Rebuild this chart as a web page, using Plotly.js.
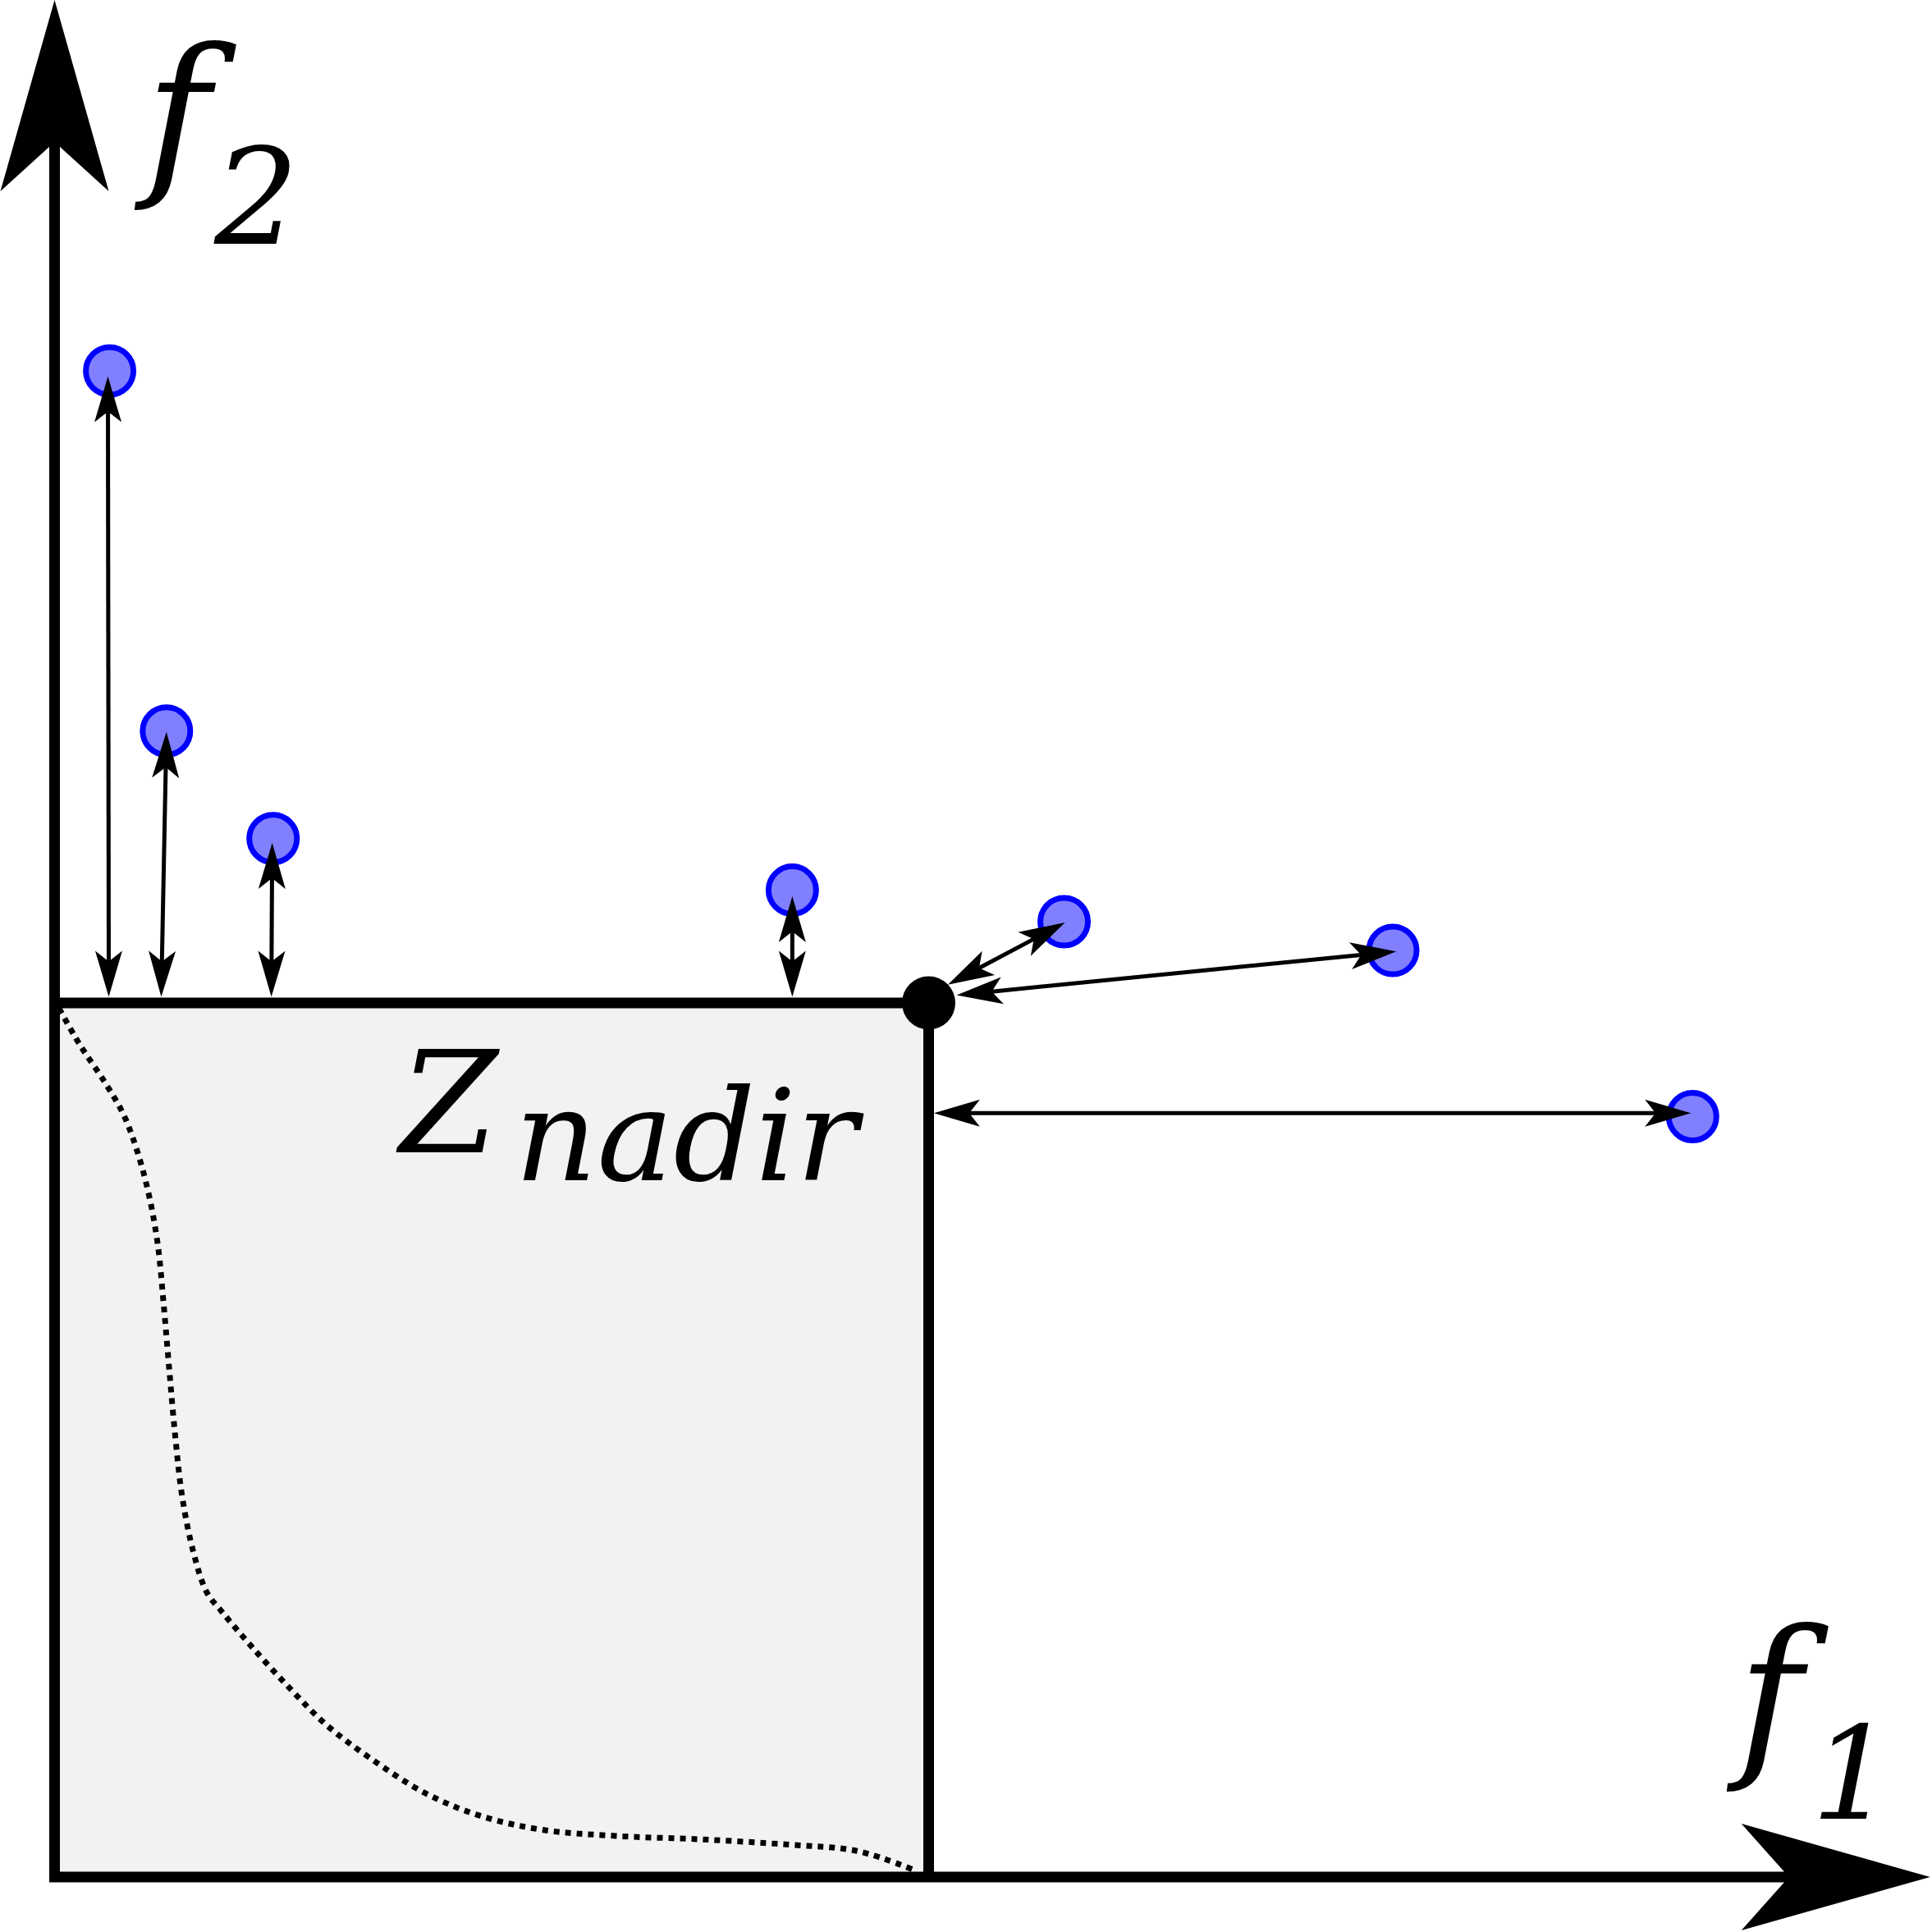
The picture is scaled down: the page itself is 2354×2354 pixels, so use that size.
<!DOCTYPE html>
<html><head><meta charset="utf-8">
<script src="https://cdn.plot.ly/plotly-3.0.1.min.js"></script>
<style>html,body{margin:0;padding:0;background:#fff}</style>
</head><body><div id="chart" style="width:2354px;height:2354px"></div>
<script>
// Solution points in objective space (f1, f2)
const pointF1 = [0.63, 1.28, 2.50, 8.44, 11.55, 15.31, 18.74];
const pointF2 = [17.23, 13.11, 11.88, 11.29, 10.93, 10.60, 8.70];
// Nadir point
const nadirF1 = [10];
const nadirF2 = [10];
// Distance arrows: start (on nadir box) -> end (at solution point)
const arrowStartF1 = [0.62, 1.22, 2.48, 8.44, 10.22, 10.32, 10.06];
const arrowStartF2 = [10.07, 10.07, 10.07, 10.07, 10.21, 10.09, 8.74];
const arrowEndF1 = [0.61, 1.28, 2.49, 8.44, 11.56, 15.35, 18.72];
const arrowEndF2 = [17.17, 13.10, 11.83, 11.22, 10.92, 10.59, 8.74];
// Approximate Pareto front (dotted)
const frontF1 = [0.05, 0.29, 0.57, 0.79, 0.95, 1.08, 1.18, 1.25, 1.31, 1.38, 1.46, 1.59, 1.74, 1.91, 2.26, 2.69, 3.11, 3.61, 4.24, 4.87, 5.58, 6.42, 7.41, 8.40, 9.17, 9.81];
const frontF2 = [9.94, 9.52, 9.10, 8.72, 8.29, 7.80, 7.24, 6.53, 5.83, 5.05, 4.35, 3.71, 3.26, 3.04, 2.63, 2.16, 1.74, 1.36, 0.96, 0.70, 0.54, 0.47, 0.43, 0.37, 0.30, 0.09];
// Labels
const axisLabelMain = ["f", "f"];
const axisLabelSub = ["2", "1"];
const boxLabelMain = "Z";
const boxLabelSub = "nadir";

const U = 106.5; // pixels per unit
const W = 2354;
const xr = [-66.5 / U, (W - 66.5) / U];
const yr = [-(W - 2287) / U, 2287 / U];
const px = v => (v - 66.5) / U;
const py = v => (2287 - v) / U;

function headGeom(tx, ty, fx, fy, L, Wd, N) {
  const dx = tx - fx, dy = ty - fy, len = Math.hypot(dx, dy);
  const ux = dx / len, uy = dy / len, nx = -uy, ny = ux;
  const l = L / U, w = Wd / U, n = N / U;
  const bx = tx - ux * l, by = ty - uy * l;
  const notch = [tx - ux * (l - n), ty - uy * (l - n)];
  const path = `M${tx} ${ty} L${bx + nx * w} ${by + ny * w} L${notch[0]} ${notch[1]} L${bx - nx * w} ${by - ny * w} Z`;
  return {path, notch};
}

const shapes = [];
// nadir box fill
shapes.push({type: 'rect', xref: 'x', yref: 'y', x0: 0, y0: 0, x1: nadirF1[0], y1: nadirF2[0],
  fillcolor: '#f2f2f2', line: {width: 0}, layer: 'below'});
// box edges
shapes.push({type: 'path', xref: 'x', yref: 'y', layer: 'below',
  path: `M0 ${nadirF2[0]} L${nadirF1[0]} ${nadirF2[0]} L${nadirF1[0]} 0`, line: {color: '#000', width: 13}});
// axes with big arrowheads
const yTip = yr[1], xTip = px(2351.7);
const yHead = headGeom(0, yTip, 0, 0, 233, 66, 60);
const xHead = headGeom(xTip, 0, 0, 0, 230, 65, 58);
shapes.push({type: 'path', xref: 'x', yref: 'y', layer: 'above',
  path: `M0 ${yHead.notch[1]} L0 0 L${xHead.notch[0]} 0`, line: {color: '#000', width: 13}});
shapes.push({type: 'path', xref: 'x', yref: 'y', layer: 'above', path: yHead.path, fillcolor: '#000', line: {width: 0}});
shapes.push({type: 'path', xref: 'x', yref: 'y', layer: 'above', path: xHead.path, fillcolor: '#000', line: {width: 0}});
// double arrows
for (let i = 0; i < arrowStartF1.length; i++) {
  const sx = arrowStartF1[i], sy = arrowStartF2[i], ex = arrowEndF1[i], ey = arrowEndF2[i];
  const hEnd = headGeom(ex, ey, sx, sy, 56, 16.5, 13);
  const hStart = headGeom(sx, sy, ex, ey, 56, 16.5, 13);
  shapes.push({type: 'line', xref: 'x', yref: 'y', layer: 'above',
    x0: hStart.notch[0], y0: hStart.notch[1], x1: hEnd.notch[0], y1: hEnd.notch[1], line: {color: '#000', width: 5}});
  shapes.push({type: 'path', xref: 'x', yref: 'y', layer: 'above', path: hEnd.path, fillcolor: '#000', line: {width: 0}});
  shapes.push({type: 'path', xref: 'x', yref: 'y', layer: 'above', path: hStart.path, fillcolor: '#000', line: {width: 0}});
}

const fontBase = {family: 'DejaVu Serif', color: '#000', style: 'italic'};
const annotations = [
  {x: px(225), y: py(137), text: axisLabelMain[0], font: Object.assign({size: 214}, fontBase)},
  {x: px(312), y: py(241), text: axisLabelSub[0], font: Object.assign({size: 162}, fontBase)},
  {x: px(2165), y: py(2064), text: axisLabelMain[1], font: Object.assign({size: 214}, fontBase)},
  {x: px(2257), y: py(2161), text: axisLabelSub[1], font: Object.assign({size: 158}, fontBase)},
  {x: px(545), y: py(1344), text: boxLabelMain, font: Object.assign({size: 172}, fontBase)},
  {x: px(840), y: py(1384), text: boxLabelSub, font: Object.assign({size: 156}, fontBase)}
].map(a => Object.assign({xref: 'x', yref: 'y', showarrow: false, xanchor: 'center', yanchor: 'middle'}, a));

const traces = [
  {x: frontF1, y: frontF2, type: 'scatter', mode: 'lines', line: {color: '#000', width: 7, dash: 'dot', shape: 'spline', smoothing: 1}, hoverinfo: 'skip'},
  {x: pointF1, y: pointF2, type: 'scatter', mode: 'markers',
    marker: {size: 58, color: '#8080ff', line: {color: '#0000ff', width: 7}}},
  {x: nadirF1, y: nadirF2, type: 'scatter', mode: 'markers',
    marker: {size: 65, color: '#000', line: {width: 0}}}
];

const layout = {
  width: W, height: W,
  margin: {l: 0, r: 0, t: 0, b: 0, pad: 0},
  paper_bgcolor: '#fff', plot_bgcolor: '#fff',
  showlegend: false,
  xaxis: {range: xr, visible: false, fixedrange: true},
  yaxis: {range: yr, visible: false, fixedrange: true},
  shapes, annotations
};
Plotly.newPlot('chart', traces, layout, {staticPlot: true, displayModeBar: false});
</script></body></html>
